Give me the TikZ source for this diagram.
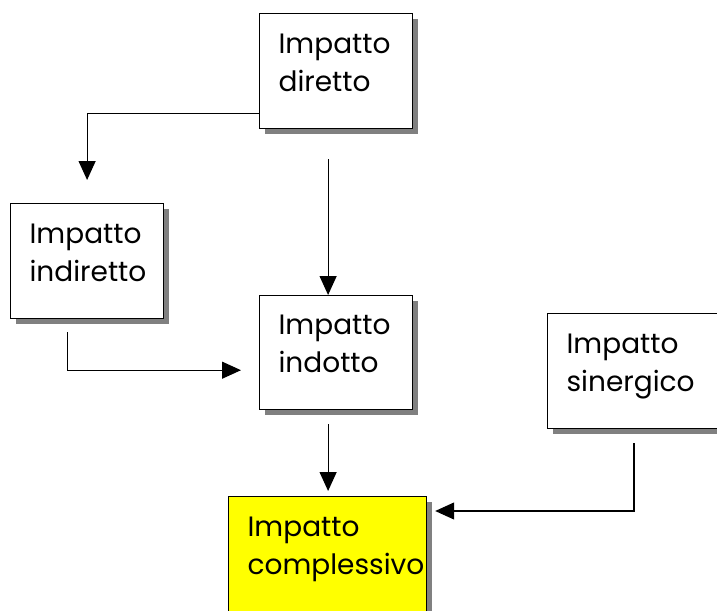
\documentclass[tikz,border=0pt]{standalone}
\usepackage{fontspec}
\setmainfont{Poppins}
\usetikzlibrary{arrows.meta,calc,shadows}
\definecolor{boxyellow}{RGB}{255,255,0}

\begin{document}
\begin{tikzpicture}[x=1pt,y=-1pt,>={Triangle[width=17pt,length=19pt]},line width=1.2pt,
    box/.style={draw,fill=white,anchor=north west,align=left,inner xsep=19pt,inner ysep=0pt,
      minimum height=115pt,text width=115pt,font=\fontsize{28}{38}\selectfont,
      execute at end node={\rule[-17pt]{0pt}{0pt}},
      drop shadow={shadow xshift=5pt,shadow yshift=-5pt,fill=black!50,opacity=1}},
    link/.style={->}]

    \useasboundingbox (0,0) rectangle (717,610);

    % The five impacts
    \node [box] (diretto) at (259,13) {Impatto\\diretto};
    \node [box] (indiretto) at (10,203) {Impatto\\indiretto};
    \node [box,minimum height=114pt] (indotto) at (259,295) {Impatto\\indotto};
    \node [box,text width=137pt] (sinergico) at (547,313) {Impatto\\sinergico};
    \node [box,fill=boxyellow,text width=160pt] (complessivo) at (228,496) {Impatto\\complessivo};

    % Links between impacts
    \draw [link] ([yshift=16pt]diretto.south west) -| ([yshift=23pt]indiretto.north);
    \draw [link] ([xshift=-8pt,yshift=-30pt]diretto.south) -- ([xshift=-8pt]indotto.north);
    \draw [link] ([xshift=-20pt,yshift=-13pt]indiretto.south) |- ([xshift=-18pt,yshift=40pt]indotto.south west);
    \draw [link] ([xshift=-8pt,yshift=-14pt]indotto.south) -- ([xshift=-8pt,yshift=5pt]indotto.south |- complessivo.north);
    \draw [link] ([xshift=87pt,yshift=-14pt]sinergico.south west) |- ([xshift=8pt,yshift=-15pt]complessivo.north east);

\end{tikzpicture}
\end{document}
